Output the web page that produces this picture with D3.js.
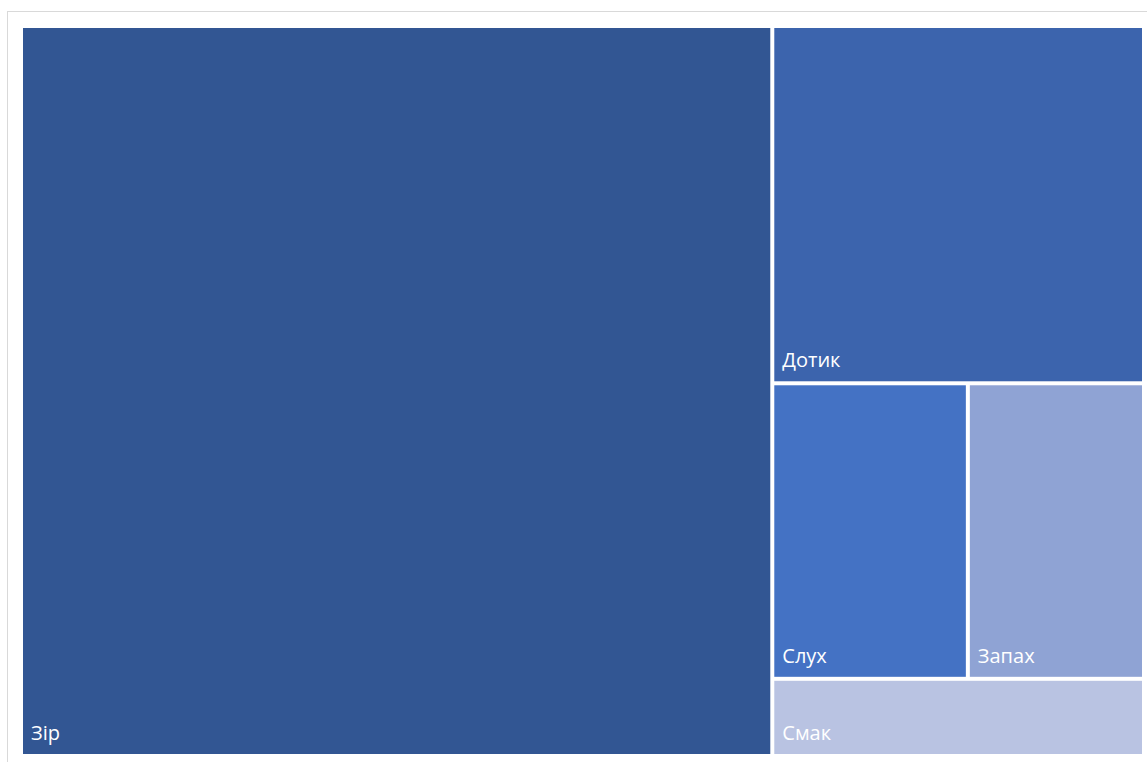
<!DOCTYPE html>
<html>
<head>
<meta charset="utf-8">
<script src="https://cdn.jsdelivr.net/npm/d3@7"></script>
<style>
  html, body { margin: 0; padding: 0; background: #ffffff; }
  svg { display: block; }
  .label { font-family: "Open Sans", "Noto Sans", sans-serif; fill: #ffffff; }
</style>
</head>
<body>
<svg id="chart" width="1147" height="762"></svg>
<script>
// Senses and their share (%)
const categories = ["Зір", "Дотик", "Слух", "Запах", "Смак"];
const values = [66.9, 16.2, 7.05, 6.35, 3.5];
const colors = ["#325693", "#3c64ad", "#4472c4", "#8fa3d4", "#b9c3e2"];

const svg = d3.select("#chart");

// light frame of the chart area
svg.append("rect")
  .attr("x", 7.5).attr("y", 11.5)
  .attr("width", 1300).attr("height", 900)
  .attr("fill", "#ffffff")
  .attr("stroke", "#d9d9d9")
  .attr("stroke-width", 1);

const data = {
  name: "root",
  children: categories.map((c, i) => ({ name: c, value: values[i], color: colors[i] }))
};

const root = d3.hierarchy(data)
  .sum(d => d.value || 0)
  .sort((a, b) => b.value - a.value);

// plot area; each tile is inset by `gap` on every side
const gap = 2;
const origin = [21, 26];
d3.treemap()
  .tile(d3.treemapSquarify.ratio(1))
  .size([1123, 730])
  .round(false)(root);

const cell = svg.append("g")
  .attr("transform", `translate(${origin[0]},${origin[1]})`)
  .selectAll("g")
  .data(root.leaves())
  .join("g");

cell.append("rect")
  .attr("x", d => d.x0 + gap)
  .attr("y", d => d.y0 + gap)
  .attr("width", d => d.x1 - d.x0 - 2 * gap)
  .attr("height", d => d.y1 - d.y0 - 2 * gap)
  .attr("fill", d => d.data.color);

cell.append("text")
  .attr("class", "label")
  .attr("x", d => d.x0 + gap + 8)
  .attr("y", d => d.y1 - gap - 14)
  .attr("font-size", 20)
  .text(d => d.data.name);
</script>
</body>
</html>
